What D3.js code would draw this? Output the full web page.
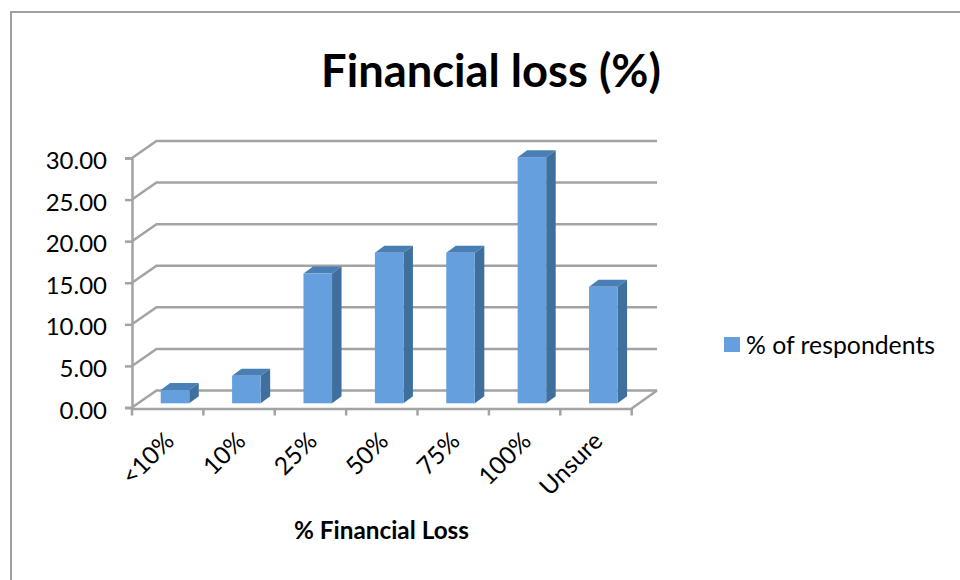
<!DOCTYPE html>
<html>
<head>
<meta charset="utf-8">
<script src="https://cdn.jsdelivr.net/npm/d3@7/dist/d3.min.js"></script>
<style>
html,body{margin:0;padding:0;background:#fff}
svg{display:block}
text{font-family:Lato,"Open Sans",sans-serif;fill:#000}
</style>
</head>
<body>
<script>
const categories = ["<10%","10%","25%","50%","75%","100%","Unsure"];
const values = [1.6,3.3,15.6,18.1,18.1,29.6,14.0];
const yTicks = [0,5,10,15,20,25,30];
const seriesName = "% of respondents";
const chartTitle = "Financial loss (%)";
const xTitle = "% Financial Loss";

const W=960,H=580;
const svg=d3.select("body").append("svg").attr("width",W).attr("height",H);
const GRID="#a3a3a3";
const depth={x:24.5,y:-17};
const barDepth={x:9.5,y:-7};
const lift={x:7.3,y:-4.2};

const x=d3.scaleBand().domain(categories).range([132,631.7]).paddingInner(0.6).paddingOuter(0.3);
const xOuter=d3.scaleBand().domain(categories).range([132,631.7]);
const y=d3.scaleLinear().domain([0,30]).range([407.5,158]);

// chart frame
svg.append("path").attr("d",`M11,${H}V12H${W}`).attr("fill","none").attr("stroke","#a0a0a0").attr("stroke-width",2);

// gridlines: side wall + back wall
const grid=svg.append("g").attr("fill","none").attr("stroke",GRID).attr("stroke-width",2.5);
yTicks.forEach(t=>{
  grid.append("path").attr("d",`M132,${y(t)}L${132+depth.x},${y(t)+depth.y}H657`);
});
// floor right edge
grid.append("path").attr("d",`M631.7,${y(0)+1}L657,${y(0)+depth.y}`);

// axes
const yAxis=svg.append("g").attr("transform","translate(132,0)")
  .call(d3.axisLeft(y).tickValues(yTicks).tickFormat(d3.format(".2f")).tickSize(7).tickPadding(18));
const xAxis=svg.append("g").attr("transform",`translate(0,${y(0)+1})`)
  .call(d3.axisBottom(xOuter).tickSize(0).tickFormat(""));
xAxis.selectAll(".tick").remove();
const edges=categories.map(c=>xOuter(c)).concat([xOuter.range()[1]]);
xAxis.selectAll("line.edge").data(edges).enter().append("line").attr("class","edge")
  .attr("x1",d=>d).attr("x2",d=>d).attr("y1",0).attr("y2",7);
[yAxis,xAxis].forEach(a=>{
  a.selectAll("path,line").attr("stroke",GRID).attr("stroke-width",2.5);
  a.selectAll("text").attr("font-size",24).attr("dy","0.44em").attr("font-family","Lato,'Open Sans',sans-serif").attr("fill","#000");
});

// rotated category labels
svg.append("g").selectAll("text").data(categories).enter().append("text")
  .attr("text-anchor","end").attr("font-size",24.5)
  .attr("transform",c=>`translate(${xOuter(c)+xOuter.bandwidth()/2+2},${y(0)+29}) rotate(-45)`)
  .attr("dy","0.35em")
  .text(c=>c);

// 3D bars
const bars=svg.append("g").selectAll("g").data(values).enter().append("g");
const barLeft=(d,i)=>x(categories[i])+lift.x;
const barTop=d=>y(d)+lift.y;
const barBottom=y(0)+lift.y;
bars.append("path").attr("fill","#4a7fb6")
  .attr("d",(d,i)=>{const l=barLeft(d,i),r=l+x.bandwidth(),t=barTop(d);
    return `M${l},${t}L${l+barDepth.x},${t+barDepth.y}H${r+barDepth.x}L${r},${t}Z`;});
bars.append("path").attr("fill","#3f6f9d")
  .attr("d",(d,i)=>{const r=barLeft(d,i)+x.bandwidth(),t=barTop(d);
    return `M${r},${t}L${r+barDepth.x},${t+barDepth.y}V${barBottom+barDepth.y}L${r},${barBottom}Z`;});
bars.append("rect").attr("fill","#669fdd")
  .attr("x",(d,i)=>barLeft(d,i)).attr("y",d=>barTop(d))
  .attr("width",x.bandwidth()).attr("height",d=>barBottom-barTop(d));

// titles
svg.append("text").attr("x",491).attr("y",87).attr("text-anchor","middle")
  .attr("font-size",45.3).attr("font-weight",700).text(chartTitle);
svg.append("text").attr("x",381.5).attr("y",539).attr("text-anchor","middle")
  .attr("font-size",24.3).attr("font-weight",700).text(xTitle);

// legend
svg.append("rect").attr("x",724).attr("y",337).attr("width",16).attr("height",15).attr("fill","#669fdd");
svg.append("text").attr("x",746).attr("y",354).attr("font-size",24.8).text(seriesName);
</script>
</body>
</html>
